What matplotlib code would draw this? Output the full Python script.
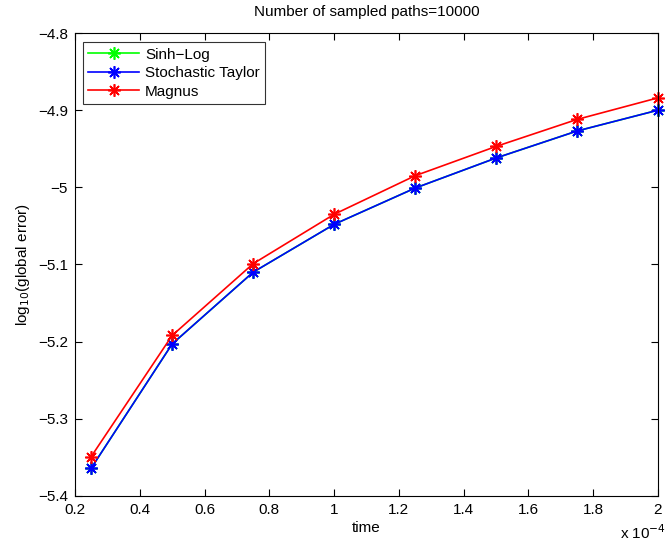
import matplotlib
matplotlib.use("Agg")
import matplotlib.pyplot as plt
from matplotlib.ticker import FixedLocator, FixedFormatter

plt.rcParams['font.family'] = ['Liberation Sans', 'DejaVu Sans']

time_vals = [0.25, 0.5, 0.75, 1.0, 1.25, 1.5, 1.75, 2.0]  # x 10^-4
sinh_log = [-5.364, -5.203, -5.110, -5.048, -5.001, -4.962, -4.927, -4.900]
stoch_taylor = [-5.364, -5.203, -5.110, -5.048, -5.001, -4.962, -4.927, -4.900]
magnus = [-5.349, -5.192, -5.099, -5.035, -4.985, -4.947, -4.912, -4.884]

xticks = [0.2, 0.4, 0.6, 0.8, 1.0, 1.2, 1.4, 1.6, 1.8, 2.0]
xticklabels = ["0.2", "0.4", "0.6", "0.8", "1", "1.2", "1.4", "1.6", "1.8", "2"]
yticks = [-5.4, -5.3, -5.2, -5.1, -5.0, -4.9, -4.8]
yticklabels = ["\u22125.4", "\u22125.3", "\u22125.2", "\u22125.1", "\u22125", "\u22124.9", "\u22124.8"]

FS = 11

fig = plt.figure(figsize=(6.67, 5.43), dpi=100)
ax = fig.add_axes([0.1124, 0.0866, 0.8741, 0.8526])

mk = (8, 2, 0)
ax.plot(time_vals, sinh_log, color='#00ff00', marker=mk, markersize=9, mew=1.2, lw=1.2, label='Sinh\u2212Log', clip_on=False)
ax.plot(time_vals, stoch_taylor, color='#0000ff', marker=mk, markersize=9, mew=1.2, lw=1.2, label='Stochastic Taylor', clip_on=False)
ax.plot(time_vals, magnus, color='#ff0000', marker=mk, markersize=9, mew=1.2, lw=1.2, label='Magnus', clip_on=False)

ax.set_xlim(0.2, 2.0)
ax.set_ylim(-5.4, -4.8)
ax.xaxis.set_major_locator(FixedLocator(xticks))
ax.xaxis.set_major_formatter(FixedFormatter(xticklabels))
ax.yaxis.set_major_locator(FixedLocator(yticks))
ax.yaxis.set_major_formatter(FixedFormatter(yticklabels))
ax.tick_params(direction='in', length=5, width=0.8, labelsize=FS, top=True, right=True, pad=5)
for s in ax.spines.values():
    s.set_linewidth(0.8)

ax.set_xlabel('time', fontsize=FS, labelpad=3)
ax.set_ylabel(r'log$_{10}$(global error)', fontsize=FS, labelpad=4)
ax.set_title('Number of sampled paths=10000', fontsize=FS, pad=12)
fig.text(0.93, 0.002, r'x 10$^{-4}$', fontsize=FS, ha='left', va='bottom')

leg = ax.legend(loc='upper left', bbox_to_anchor=(0.006, 0.99), fontsize=FS, frameon=True,
                fancybox=False, edgecolor='black', borderpad=0.35, labelspacing=0.3,
                handlelength=3.3, handletextpad=0.4, borderaxespad=0.3)
leg.get_frame().set_linewidth(0.8)

fig.savefig('out.png', dpi=100)
